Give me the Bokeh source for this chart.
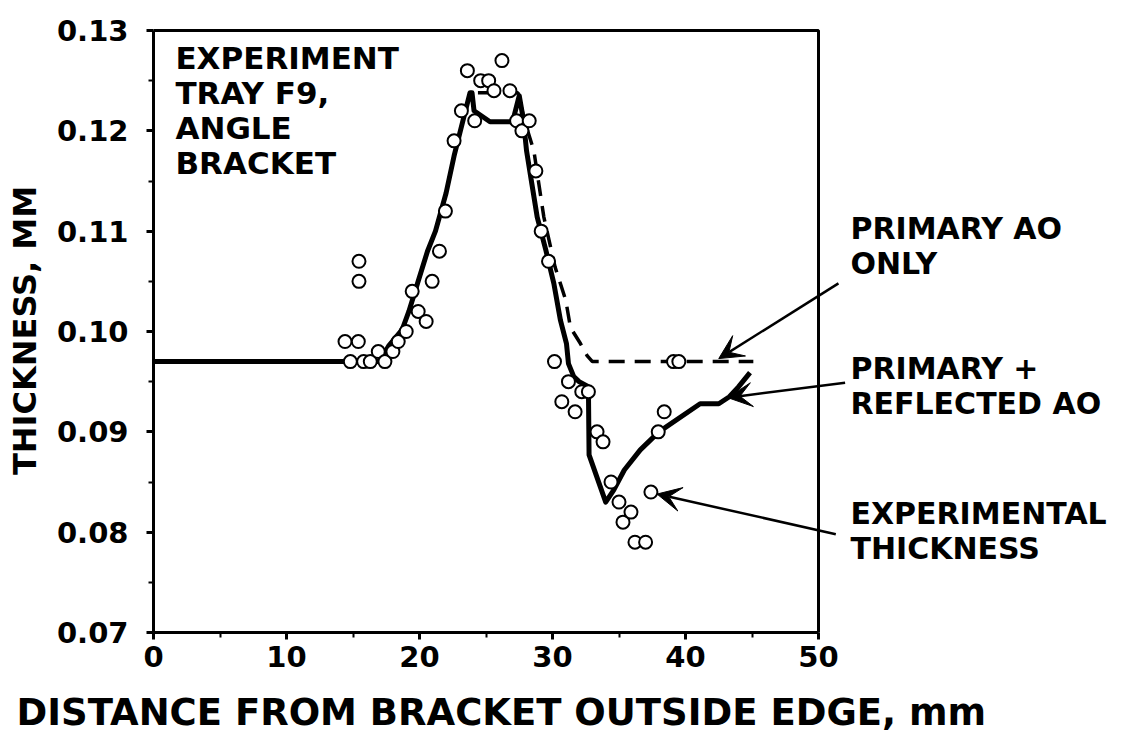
from bokeh.plotting import figure
from bokeh.models import (Range1d, FixedTicker, PrintfTickFormatter, Label, Arrow, VeeHead,
                          BoxAnnotation, Title)
from bokeh.embed import file_html
from bokeh.resources import INLINE

# ---- data ----
exp_x = [14.4, 15.4, 15.45, 15.45, 14.8, 15.8, 16.3, 16.9, 17.4, 18.0, 18.4, 19.0, 19.45, 19.9,
         20.5, 20.95, 21.5, 21.95, 22.6, 23.15, 23.6, 24.15, 24.6, 25.2, 25.6, 26.2, 26.8, 27.3,
         27.7, 28.25, 28.75, 29.15, 29.7, 30.15, 30.7, 31.2, 31.7, 32.2, 32.7, 33.35, 33.8, 34.4,
         35.0, 35.3, 35.9, 36.2, 37.0, 37.4, 37.95, 38.4, 39.1, 39.5]
exp_y = [0.099, 0.099, 0.107, 0.105, 0.097, 0.097, 0.097, 0.098, 0.097, 0.098, 0.099, 0.100, 0.104, 0.102,
         0.101, 0.105, 0.108, 0.112, 0.119, 0.122, 0.126, 0.121, 0.125, 0.125, 0.124, 0.127, 0.124, 0.121,
         0.120, 0.121, 0.116, 0.110, 0.107, 0.097, 0.093, 0.095, 0.092, 0.094, 0.094, 0.090, 0.089, 0.085,
         0.083, 0.081, 0.082, 0.079, 0.079, 0.084, 0.090, 0.092, 0.097, 0.097]

refl_x = [0, 17.0, 17.7, 18.7, 19.2, 19.9, 20.6, 21.2, 22.0, 22.6, 23.3, 23.8, 23.95, 24.1, 25.3, 27.0,
          27.5, 27.8, 28.05, 28.45, 28.85, 29.5, 30.1, 30.6, 31.05, 31.2, 31.6, 32.0, 32.7, 32.75, 34.0,
          34.6, 35.4, 36.6, 38.0, 41.1, 42.5, 43.3, 44.0, 44.85]
refl_y = [0.097, 0.097, 0.0986, 0.1002, 0.102, 0.105, 0.108, 0.110, 0.1138, 0.1175, 0.1212, 0.1238, 0.1238,
          0.1220, 0.1209, 0.1209, 0.1235, 0.1212, 0.118, 0.1147, 0.1114, 0.1081, 0.1048, 0.1011, 0.0988,
          0.0968, 0.0955, 0.095, 0.0945, 0.0877, 0.0830, 0.0842, 0.0862, 0.0882, 0.090, 0.0928, 0.0928,
          0.0935, 0.0945, 0.0959]

prim_x = [0, 17.0, 17.7, 18.7, 19.2, 19.9, 20.6, 21.2, 22.0, 22.6, 23.3, 23.8, 27.4, 27.9, 28.6, 29.35,
          30.2, 31.0, 31.35, 32.1, 32.6, 33.0, 45.1]
prim_y = [0.097, 0.097, 0.0986, 0.1002, 0.102, 0.105, 0.108, 0.110, 0.1138, 0.1175, 0.1212, 0.1238, 0.1238,
          0.121, 0.118, 0.1114, 0.1064, 0.1031, 0.1004, 0.0988, 0.0976, 0.097, 0.097]

x_ticks = [0, 10, 20, 30, 40, 50]
x_minor = [5, 15, 25, 35, 45]
y_ticks = [0.07, 0.08, 0.09, 0.10, 0.11, 0.12, 0.13]
y_minor = [0.075, 0.085, 0.095, 0.105, 0.115, 0.125]

FONT = "DejaVu Sans"

# layout: the axes box is 665 px wide for 0..50; the drawing frame is widened to the right
# so that the side annotations and arrows (which cross the box edge) are not clipped.
LEFT, TOP = 153, 28
BOX_W, BOX_H = 665, 602
FRAME_W = 960
FRAME_H = BOX_H + 2
x_end = 50 * FRAME_W / BOX_W
y_end = 0.13 + 0.06 * (FRAME_H - BOX_H) / BOX_H

p = figure(frame_width=FRAME_W, frame_height=FRAME_H, output_backend="svg", toolbar_location=None,
           x_range=Range1d(0, x_end), y_range=Range1d(0.07, y_end),
           min_border_left=LEFT, min_border_right=8, min_border_top=TOP, min_border_bottom=0)
p.grid.visible = False
p.outline_line_color = None
p.background_fill_color = "white"
p.border_fill_color = "white"

for ax in (p.xaxis[0], p.yaxis[0]):
    ax.axis_line_width = 3
    ax.major_tick_line_width = 3
    ax.minor_tick_line_width = 2
    ax.major_tick_in = 0
    ax.major_tick_out = 7
    ax.minor_tick_in = 0
    ax.minor_tick_out = 5
    ax.major_label_text_font = FONT
    ax.major_label_text_font_style = "bold"
    ax.major_label_text_font_size = "29px"
    ax.major_label_text_color = "black"
    ax.axis_label_text_font = FONT
    ax.axis_label_text_font_style = "bold"
    ax.axis_label_text_color = "black"

p.xaxis[0].bounds = (0, 50)
p.yaxis[0].bounds = (0.07, 0.13)
p.xaxis[0].ticker = FixedTicker(ticks=x_ticks, minor_ticks=x_minor)
p.yaxis[0].ticker = FixedTicker(ticks=y_ticks, minor_ticks=y_minor)
p.xaxis[0].formatter = PrintfTickFormatter(format="%d")
p.yaxis[0].formatter = PrintfTickFormatter(format="%.2f")
p.xaxis[0].major_label_standoff = 6
p.yaxis[0].major_label_standoff = 18
p.yaxis[0].axis_label = "THICKNESS, MM"
p.yaxis[0].axis_label_text_font_size = "32px"
p.yaxis[0].axis_label_standoff = 10

# x-axis title, centred under the 0..50 box
xt = Title(text="DISTANCE FROM BRACKET OUTSIDE EDGE, mm", align="left", offset=-137,
           text_font=FONT, text_font_style="bold", text_font_size="37px", text_color="black",
           standoff=38)
p.add_layout(xt, "below")

# the axes box (top and right edges)
p.add_layout(BoxAnnotation(left=0, right=50, bottom=0.07, top=0.13, fill_alpha=0,
                           line_color="black", line_alpha=1.0, line_width=3))

# lines
p.line(prim_x, prim_y, line_color="black", line_width=3.5, line_dash="16 10")
p.line(refl_x, refl_y, line_color="black", line_width=5, line_join="round")
# experimental points
p.scatter(exp_x, exp_y, marker="circle", size=13, fill_color="white", line_color="black", line_width=2)

# text annotations
def lab(x, y, t, size="30px"):
    p.add_layout(Label(x=x, y=y, text=t, text_font=FONT, text_font_style="bold",
                       text_font_size=size, text_color="black", text_align="left",
                       text_baseline="middle"))

for i, t in enumerate(["EXPERIMENT", "TRAY F9,", "ANGLE", "BRACKET"]):
    lab(1.65, 0.1273 - i * 0.0035, t, "31px")

lab(52.4, 0.1103, "PRIMARY AO")
lab(52.4, 0.1068, "ONLY")
lab(52.4, 0.0963, "PRIMARY +")
lab(52.4, 0.0928, "REFLECTED AO")
lab(52.4, 0.0819, "EXPERIMENTAL")
lab(52.4, 0.0784, "THICKNESS")

def arrow(x0, y0, x1, y1):
    p.add_layout(Arrow(x_start=x0, y_start=y0, x_end=x1, y_end=y1, line_width=2.5, line_color="black",
                       end=VeeHead(size=24, fill_color="black", line_color="black", line_width=1)))

arrow(51.5, 0.1048, 42.5, 0.0973)
arrow(52.0, 0.0949, 43.2, 0.0934)
arrow(51.3, 0.0798, 37.86, 0.0838)

open("out.html", "w").write(file_html(p, INLINE))
